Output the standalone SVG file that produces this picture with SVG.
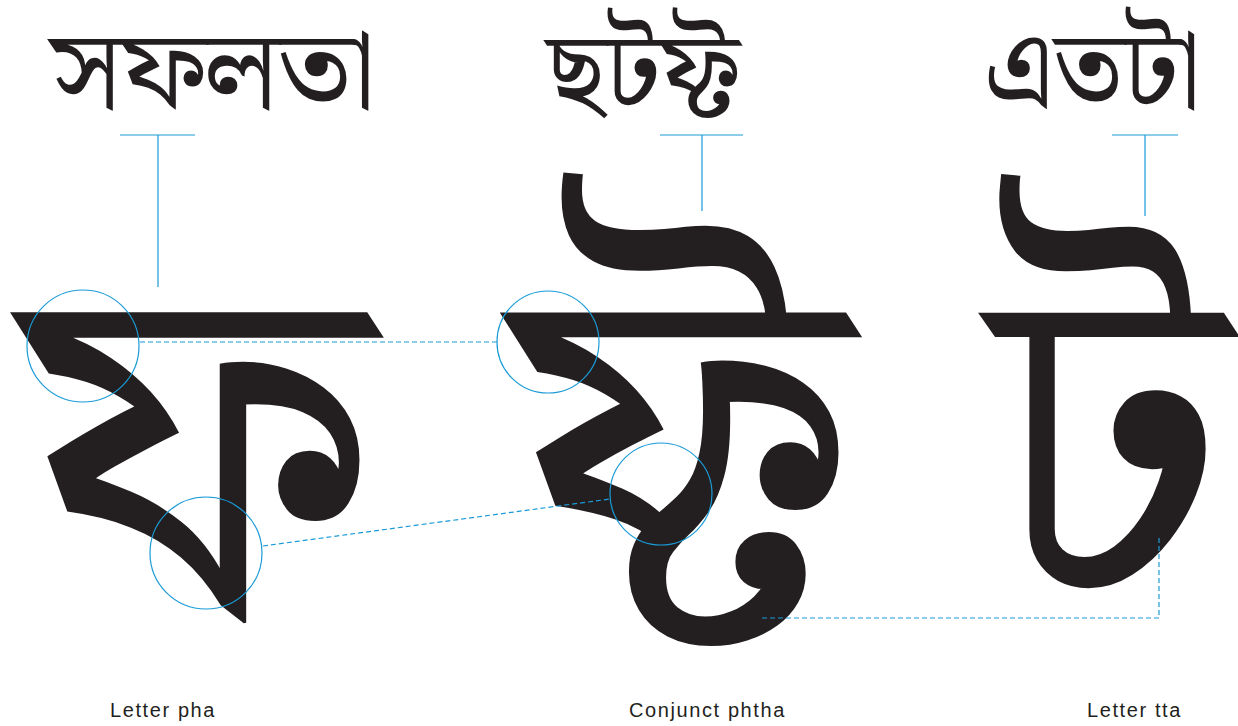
<svg xmlns="http://www.w3.org/2000/svg" width="1238" height="726" viewBox="0 0 1238 726">
<style>
.bn{font-family:"Noto Serif Bengali","Noto Sans Bengali","Lohit Bengali","FreeSerif","Noto Sans",sans-serif;fill:#231f20}
.lbl{font-family:"Liberation Sans",Arial,sans-serif;font-size:20px;letter-spacing:1.6px;fill:#231f20}
.guide{stroke:#1a9bd7;stroke-width:1.2;fill:none}
.dash{stroke:#1a9bd7;stroke-width:1.2;fill:none;stroke-dasharray:5 3}
</style>
<rect width="1238" height="726" fill="#fff"/>
<g id="word-sofolota"><text class="bn" x="213" y="108" font-size="111" text-anchor="middle" textLength="325" lengthAdjust="spacingAndGlyphs">সফলতা</text></g>
<g id="word-chhotphot"><text class="bn" x="643" y="109" font-size="111" text-anchor="middle">ছটফ্ট</text></g>
<g id="word-etota"><text class="bn" x="1092" y="108" font-size="111" text-anchor="middle">এতটা</text></g>
<g id="glyph-pha"><text class="bn" x="197" y="617" font-size="490" text-anchor="middle">ফ</text></g>
<g id="glyph-phtha"><text class="bn" x="681" y="608" font-size="475" text-anchor="middle">ফ্ট</text></g>
<g id="glyph-tta"><text class="bn" x="1109" y="605" font-size="470" text-anchor="middle">ট</text></g>
<g id="connectors">
<path class="guide" d="M120 135H195M158 135V287"/>
<path class="guide" d="M660 135H743M702 135V211"/>
<path class="guide" d="M1112 135H1178M1145 135V216"/>
<circle class="guide" cx="83" cy="346" r="56"/>
<circle class="guide" cx="206" cy="553" r="56"/>
<circle class="guide" cx="548" cy="342" r="51"/>
<circle class="guide" cx="661" cy="494" r="51"/>
<path class="dash" d="M140 342H497"/>
<path class="dash" d="M263 546L610 499"/>
<path class="dash" d="M762 618H1159V537"/>
</g>
<g id="labels">
<text class="lbl" x="110" y="717">Letter pha</text>
<text class="lbl" x="629" y="717">Conjunct phtha</text>
<text class="lbl" x="1087" y="717">Letter tta</text>
</g>
</svg>
